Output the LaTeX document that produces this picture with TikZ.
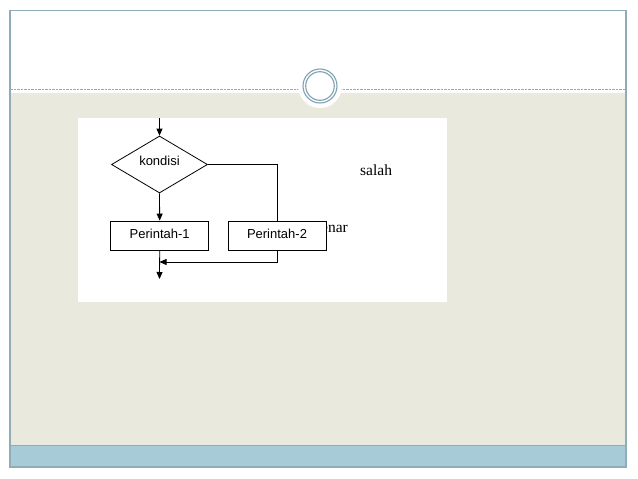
\documentclass[tikz,border=0pt]{standalone}
\usepackage{fontspec}
\setmainfont{Liberation Serif}
\newfontfamily\arialfont{Liberation Sans}
\usetikzlibrary{arrows.meta}
\usetikzlibrary{shapes.geometric}
\definecolor{slidebeige}{HTML}{E9E9DD}
\definecolor{slideblue}{HTML}{A7CCD7}
\definecolor{slideframe}{HTML}{8FACB7}
\definecolor{ringblue}{HTML}{7EA2B2}
\tikzset{
  box/.style={draw, fill=white, line width=0.8pt, minimum width=98pt, minimum height=29pt, inner sep=0pt,
    font=\arialfont\fontsize{13}{15}\selectfont},
  decision/.style={draw, diamond, line width=0.8pt, minimum width=96pt, minimum height=57pt, inner sep=0pt,
    font=\arialfont\fontsize{13}{15}\selectfont},
  flow/.style={line width=0.8pt, -{Triangle[length=7pt,width=6pt]}},
  plain/.style={line width=0.8pt},
  serifnote/.style={inner sep=0pt, font=\fontsize{15.5}{18}\selectfont}
}

\begin{document}
\begin{tikzpicture}[x=1pt, y=-1pt]
  \useasboundingbox (0,0) rectangle (638,479);

  % Slide background
  \fill[white] (0,0) rectangle (638,479);
  \fill[slidebeige] (10,93) rectangle (626,445);
  \fill[slideblue] (10,445) rectangle (626,467);
  \draw[slideframe, line width=0.6pt] (10,445) -- (626,445);

  % Title separator with the ring
  \draw[slideframe, line width=0.8pt, dash pattern=on 2.5pt off 1pt] (10,89.5) -- (626,89.5);
  \fill[white] (320,86) circle (22);
  \draw[ringblue, line width=1.1pt] (320,86) circle (17);
  \draw[ringblue, line width=1.1pt] (320,86) circle (14.3);

  % Frame
  \draw[slideframe, line width=1.2pt] (10,10.5) rectangle (626,467);

  % White panel holding the flowchart
  \fill[white] (78,118) rectangle (447,302);

  % Labels behind the boxes
  \node[serifnote, anchor=base west] (salah) at (360,175.5) {salah};
  \node[serifnote, anchor=base east] (benar) at (348,232) {benar};

  % Flowchart
  \coordinate (entry) at (159.5,118);
  \node[decision, text depth=7pt] (kondisi) at (159.5,164.5) {kondisi};
  \node[box, text depth=3pt] (perintah1) at (159.7,235.5) {Perintah-1};
  \node[box, text depth=3pt] (perintah2) at (277,235.5) {Perintah-2};
  \coordinate (exit) at (159.5,279);
  \coordinate (merge) at (159.5,262);

  \draw[flow] (entry) -- (kondisi.north);
  \draw[flow] (kondisi.south) -- (perintah1.north);
  \draw[plain] (kondisi.east) -| (perintah2.north);
  \draw[flow] (perintah2.south) |- (merge);
  \draw[flow] (perintah1.south) -- (exit);

\end{tikzpicture}
\end{document}
